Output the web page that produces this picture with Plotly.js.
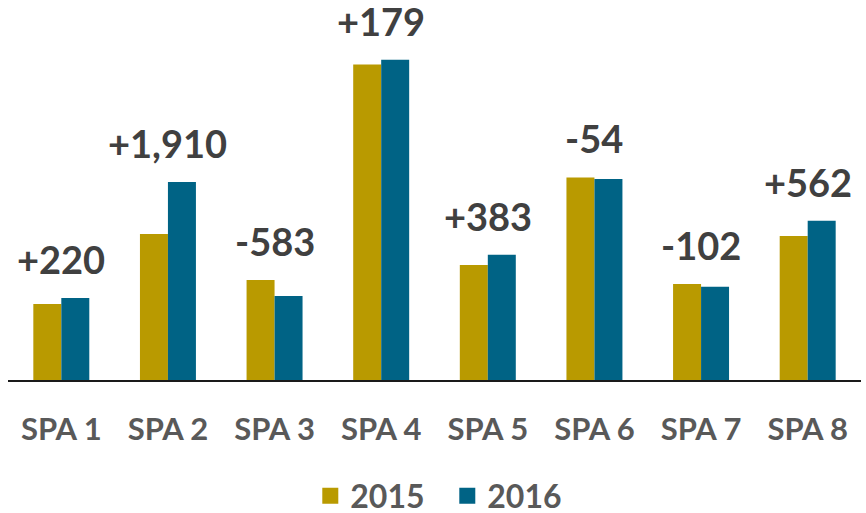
<!DOCTYPE html>
<html>
<head>
<meta charset="utf-8">
<script src="https://cdn.plot.ly/plotly-3.0.1.min.js"></script>
<style>html,body{margin:0;padding:0;background:#fff;}#chart{width:866px;height:513px;}</style>
</head>
<body>
<div id="chart"></div>
<script>
const categories = ["SPA 1","SPA 2","SPA 3","SPA 4","SPA 5","SPA 6","SPA 7","SPA 8"];
const values2015 = [2789, 5358, 3670, 11586, 4220, 7439, 3523, 5285];
const values2016 = [3009, 7268, 3087, 11765, 4603, 7385, 3421, 5847];
const changeLabels = ["+220","+1,910","-583","+179","+383","-54","-102","+562"];
const seriesNames = ["2015","2016"];
const colors = ["#B99A00","#006385"];
const FONT = "Lato, 'Open Sans', sans-serif";

const traces = [
  {type:"bar", name:seriesNames[0], x:categories, y:values2015, marker:{color:colors[0]}, showlegend:false, hoverinfo:"y"},
  {type:"bar", name:seriesNames[1], x:categories, y:values2016, marker:{color:colors[1]}, showlegend:false, hoverinfo:"y"},
  {type:"scatter", mode:"markers", name:seriesNames[0], x:[null], y:[null], marker:{symbol:"square", size:20, color:colors[0]}, showlegend:true},
  {type:"scatter", mode:"markers", name:seriesNames[1], x:[null], y:[null], marker:{symbol:"square", size:20, color:colors[1]}, showlegend:true}
];

const annotations = categories.map((c,i)=>({
  x:c, y:Math.max(values2015[i], values2016[i]), xref:"x", yref:"y",
  text:"<b>"+changeLabels[i]+"</b>", showarrow:false, yanchor:"bottom", yshift:14,
  font:{family:FONT, size:38, color:"#404040"}
}));

const layout = {
  width:866, height:513,
  margin:{l:8, r:5, t:26, b:133, autoexpand:false},
  paper_bgcolor:"#fff", plot_bgcolor:"#fff",
  barmode:"group", bargap:0.475, bargroupgap:0,
  xaxis:{type:"category", showline:true, linecolor:"#1a1a1a", linewidth:2, ticks:"", showgrid:false,
    tickfont:{family:FONT, size:31, color:"#595959", weight:"bold"}, ticklabelstandoff:21, fixedrange:true},
  yaxis:{range:[0,13000], visible:false, showgrid:false, zeroline:false, fixedrange:true},
  showlegend:true,
  legend:{orientation:"h", x:0.515, xanchor:"center", y:-0.25, yanchor:"top",
    font:{family:FONT, size:32, color:"#595959", weight:"bold"}, itemwidth:30, tracegroupgap:0,
    entrywidth:92, entrywidthmode:"pixels"},
  annotations:annotations
};

Plotly.newPlot("chart", traces, layout, {displayModeBar:false, staticPlot:true});
</script>
</body>
</html>
